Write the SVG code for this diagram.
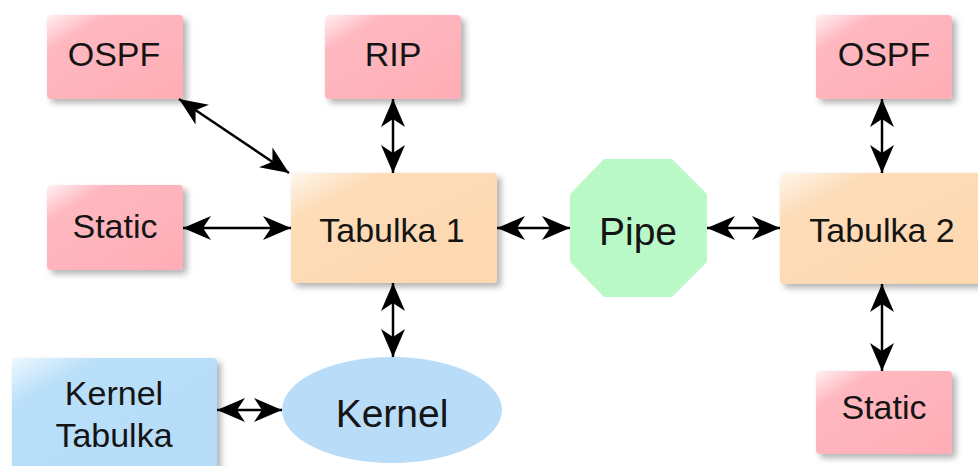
<svg xmlns="http://www.w3.org/2000/svg" width="978" height="466" viewBox="0 0 978 466">
  <defs>
    <linearGradient id="gRed" x1="0" y1="0" x2="1" y2="1">
      <stop offset="0" stop-color="#fff0f2"/>
      <stop offset="0.22" stop-color="#ffb8c0"/>
      <stop offset="1" stop-color="#ffadb6"/>
    </linearGradient>
    <linearGradient id="gOrange" x1="0" y1="0" x2="1" y2="1">
      <stop offset="0" stop-color="#fff6ec"/>
      <stop offset="0.22" stop-color="#fddcb8"/>
      <stop offset="1" stop-color="#fdd8b0"/>
    </linearGradient>
    <linearGradient id="gBlue" x1="0" y1="0" x2="1" y2="1">
      <stop offset="0" stop-color="#eef8ff"/>
      <stop offset="0.22" stop-color="#b9dff9"/>
      <stop offset="1" stop-color="#b5dcf8"/>
    </linearGradient>
    <filter id="shadow" x="-10%" y="-10%" width="130%" height="130%">
      <feDropShadow dx="4" dy="4" stdDeviation="3" flood-color="#000" flood-opacity="0.3"/>
    </filter>
    <marker id="head" markerUnits="userSpaceOnUse" viewBox="0 0 28 24" refX="28" refY="12" markerWidth="28" markerHeight="24" orient="auto-start-reverse">
      <path d="M0,0 L28,12 L0,24 L8,12 Z" fill="#000"/>
    </marker>
  </defs>
  <style>
    .red { fill: url(#gRed); filter: url(#shadow); }
    .orange { fill: url(#gOrange); filter: url(#shadow); }
    .blue { fill: url(#gBlue); filter: url(#shadow); }
    .green { fill: #b9f9c8; }
    .ellipse { fill: #b9dcf8; }
    text { font-family: "Liberation Sans", Arial, sans-serif; fill: #141414; text-anchor: middle; }
    .t { font-size: 34px; }
    .big { font-size: 39px; }
    .conn line { stroke: #000; stroke-width: 2.5; marker-start: url(#head); marker-end: url(#head); }
  </style>
  <rect width="978" height="466" fill="#fff"/>

  <g id="ospf1">
    <rect class="red" x="47" y="15" width="136" height="84" rx="4"/>
    <text class="t" x="114" y="66">OSPF</text>
  </g>
  <g id="rip">
    <rect class="red" x="325" y="15" width="136" height="84" rx="4"/>
    <text class="t" x="393" y="66">RIP</text>
  </g>
  <g id="ospf2">
    <rect class="red" x="816" y="15" width="136" height="84" rx="4"/>
    <text class="t" x="884" y="66">OSPF</text>
  </g>
  <g id="static1">
    <rect class="red" x="47" y="185" width="136" height="85" rx="4"/>
    <text class="t" x="115" y="238">Static</text>
  </g>
  <g id="tabulka1">
    <rect class="orange" x="291" y="173" width="206" height="110" rx="4"/>
    <text class="t" x="392" y="242">Tabulka 1</text>
  </g>
  <g id="pipe">
    <polygon class="green" points="604,159 672,159 707,194 707,262 672,297 604,297 570,262 570,194"/>
    <text class="big" x="638" y="245">Pipe</text>
  </g>
  <g id="tabulka2">
    <rect class="orange" x="780" y="173" width="206" height="111" rx="4"/>
    <text class="t" x="882" y="242">Tabulka 2</text>
  </g>
  <g id="static2">
    <rect class="red" x="816" y="371" width="136" height="83" rx="4"/>
    <text class="t" x="884" y="419">Static</text>
  </g>
  <g id="kernelTabulka">
    <rect class="blue" x="12" y="358" width="205" height="112" rx="4"/>
    <text class="t" x="114" y="405">Kernel</text>
    <text class="t" x="114" y="447">Tabulka</text>
  </g>
  <g id="kernel">
    <ellipse class="ellipse" cx="392" cy="410" rx="110" ry="53"/>
    <text class="big" x="392" y="427">Kernel</text>
  </g>

  <g id="connectors" class="conn">
    <line x1="179" y1="99" x2="289" y2="173"/>
    <line x1="183" y1="228" x2="291" y2="228"/>
    <line x1="393" y1="99" x2="393" y2="173"/>
    <line x1="497" y1="228" x2="570" y2="228"/>
    <line x1="707" y1="228" x2="780" y2="228"/>
    <line x1="882" y1="99" x2="882" y2="173"/>
    <line x1="882" y1="284" x2="882" y2="371"/>
    <line x1="393" y1="283" x2="393" y2="357"/>
    <line x1="217" y1="410" x2="282" y2="410"/>
  </g>
</svg>
